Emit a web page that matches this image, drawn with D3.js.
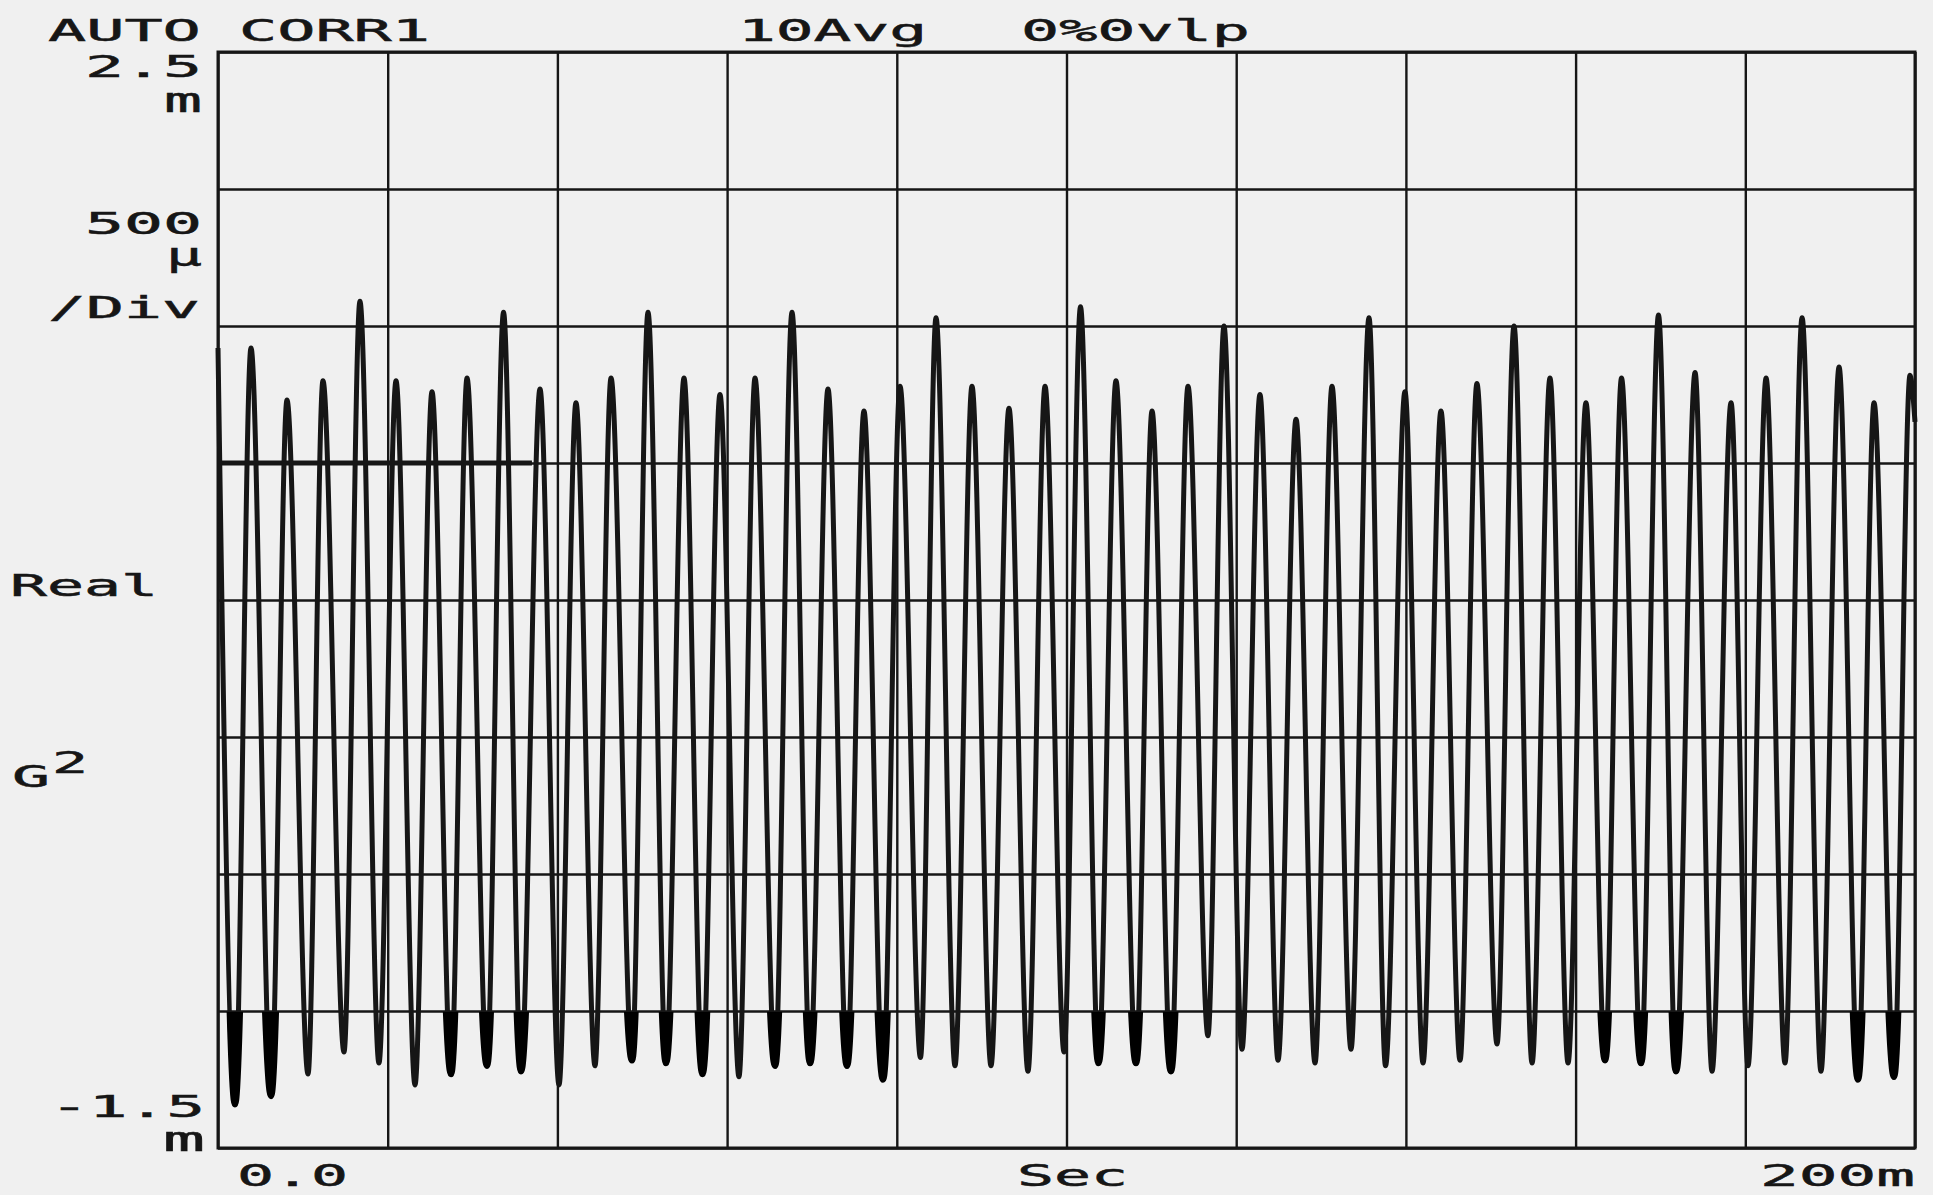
<!DOCTYPE html>
<html><head><meta charset="utf-8">
<script src="https://cdn.jsdelivr.net/npm/d3@7"></script>
<style>html,body{margin:0;padding:0;background:#f0f0f0;} svg{display:block;}</style>
</head><body><svg id="c" width="1933" height="1195"></svg>
<script>
// ---- data (time in ms, value in m·G²) ----
const startPoint = [0, 1.42];
const endPoint = [200, 1.15];
const troughTimes = [2.00, 6.25, 10.61, 14.85, 18.97, 23.22, 27.46, 31.70, 35.71, 40.19,
  44.43, 48.79, 52.80, 57.10, 61.40, 65.65, 69.78, 74.13, 78.37, 82.79,
  86.86, 91.10, 95.46, 99.71, 103.77, 108.19, 112.31, 116.67, 120.68, 124.93,
  129.29, 133.53, 137.60, 142.02, 146.38, 150.74, 154.87, 159.11, 163.47, 167.71,
  171.83, 176.08, 180.32, 184.68, 188.92, 193.28, 197.52];
const troughValues = [-1.34, -1.31, -1.23, -1.15, -1.19, -1.27, -1.23, -1.20, -1.22, -1.27,
  -1.20, -1.18, -1.19, -1.23, -1.24, -1.20, -1.19, -1.20, -1.25, -1.17,
  -1.20, -1.20, -1.22, -1.15, -1.19, -1.19, -1.22, -1.09, -1.14, -1.18,
  -1.19, -1.14, -1.20, -1.19, -1.18, -1.12, -1.19, -1.19, -1.18, -1.19,
  -1.22, -1.22, -1.20, -1.19, -1.22, -1.25, -1.24];
const peakTimes = [3.89, 8.13, 12.37, 16.73, 20.98, 25.22, 29.35, 33.65, 37.95, 42.19,
  46.32, 50.68, 54.92, 59.16, 63.29, 67.65, 71.89, 76.13, 80.38, 84.62,
  88.86, 93.22, 97.47, 101.65, 105.83, 110.08, 114.32, 118.56, 122.80, 127.05,
  131.29, 135.65, 139.89, 144.13, 148.37, 152.74, 156.98, 161.22, 165.41, 169.77,
  174.08, 178.32, 182.45, 186.69, 191.05, 195.17, 199.41];
const peakValues = [1.42, 1.23, 1.30, 1.59, 1.30, 1.26, 1.31, 1.55, 1.27, 1.22,
  1.31, 1.55, 1.31, 1.25, 1.31, 1.55, 1.27, 1.19, 1.28, 1.53,
  1.28, 1.20, 1.28, 1.57, 1.30, 1.19, 1.28, 1.50, 1.25, 1.16,
  1.28, 1.53, 1.26, 1.19, 1.29, 1.50, 1.31, 1.22, 1.31, 1.54,
  1.33, 1.22, 1.31, 1.53, 1.35, 1.22, 1.32];
// troughs (1-based) whose tips are inked solid in the plot
const inkedTroughs = [1, 2, 7, 8, 9, 12, 13, 14, 16, 17, 18, 19, 25, 26, 27, 39, 40, 41, 46, 47];
const xTicks = [0, 20, 40, 60, 80, 100, 120, 140, 160, 180, 200];
const yTicks = [-1.5, -1.0, -0.5, 0, 0.5, 1.0, 1.5, 2.0, 2.5];
const headerTexts = ["AUTO CORR1", "10Avg", "0%0vlp"];
const yLabelTop = ["2.5", "m"];
const yLabelScale = ["500", "µ", "/Div"];
const yLabelBottom = ["-1.5", "m"];
const xLabels = ["0.0", "Sec", "200m"];
const yTitle = ["Real", "G", "2"];

// ---- chart ----
const svg = d3.select("#c");
svg.append("rect").attr("width", 1933).attr("height", 1195).attr("fill", "#f0f0f0");
const L = 218, R = 1915, T = 52, B = 1148;
const x = d3.scaleLinear().domain([0, 200]).range([L, R]);
const y = d3.scaleLinear().domain([-1.5, 2.5]).range([B, T]);
const ink = "#161616";

// grid
const gx = svg.append("g").attr("transform", `translate(0,${B})`)
  .call(d3.axisBottom(x).tickValues(xTicks).tickSize(-(B - T)).tickFormat(""));
gx.select(".domain").remove();
gx.selectAll("line").attr("stroke", ink).attr("stroke-width", 2.4);
const gy = svg.append("g").attr("transform", `translate(${L},0)`)
  .call(d3.axisLeft(y).tickValues(yTicks).tickSize(-(R - L)).tickFormat(""));
gy.select(".domain").remove();
gy.selectAll("line").attr("stroke", ink).attr("stroke-width", 2.4);
svg.append("rect").attr("x", L).attr("y", T).attr("width", R - L).attr("height", B - T)
  .attr("fill", "none").attr("stroke", ink).attr("stroke-width", 3);
// heavier pen stroke on the 1.0 m line near the start
svg.append("line").attr("x1", x(0)).attr("x2", x(37)).attr("y1", y(1.0)).attr("y2", y(1.0))
  .attr("stroke", ink).attr("stroke-width", 5);

// trace
const pts = [startPoint];
troughTimes.forEach((t, i) => { pts.push([t, troughValues[i]]); pts.push([peakTimes[i], peakValues[i]]); });
pts.push(endPoint);
const line = d3.line().x(d => x(d[0])).y(d => y(d[1])).curve(d3.curveMonotoneX);
svg.append("path").attr("d", line(pts)).attr("fill", "none").attr("stroke", ink)
  .attr("stroke-width", 5).attr("stroke-linejoin", "round");

// inked trough tips below the -1.0 line
svg.append("clipPath").attr("id", "below").append("rect")
  .attr("x", L).attr("y", y(-1.0) + 1).attr("width", R - L).attr("height", B - y(-1.0) - 2);
const tips = svg.append("g").attr("clip-path", "url(#below)");
inkedTroughs.forEach(k => {
  const idx = 1 + (k - 1) * 2; // index in pts
  const seg = pts.slice(idx - 1, idx + 2);
  tips.append("path").attr("d", line(seg)).attr("fill", "#000").attr("stroke", "#000")
    .attr("stroke-width", 6.5).attr("stroke-linecap", "butt");
});

// text
function lab(str, left, right, base, size) {
  size = size || 30;
  svg.append("text").attr("x", left - 5).attr("y", base)
    .attr("textLength", right - left + 10).attr("lengthAdjust", "spacingAndGlyphs")
    .attr("font-family", "DejaVu Sans Mono, Liberation Mono, monospace")
    .attr("font-size", size).attr("fill", ink)
    .attr("stroke", ink).attr("stroke-width", 0.5).text(str);
}
lab(headerTexts[0], 53, 425, 41);
lab(headerTexts[1], 743, 922, 41);
lab(headerTexts[2], 1026, 1245, 41);
lab(yLabelTop[0], 90, 197, 77);
lab(yLabelTop[1], 169, 197, 112, 34);
lab(yLabelScale[0], 90, 197, 234);
lab(yLabelScale[1], 171, 197, 266, 32);
lab(yLabelScale[2], 53, 195, 318);
lab(yTitle[0], 15, 153, 596);
lab(yTitle[1], 17, 45, 787);
lab(yTitle[2], 57, 83, 773);
lab(yLabelBottom[0], 55, 200, 1117);
lab(yLabelBottom[1], 168, 200, 1151, 34);
lab(xLabels[0], 242, 343, 1186);
lab(xLabels[1], 1022, 1123, 1186);
lab(xLabels[2], 1765, 1910, 1186);
</script></body></html>
